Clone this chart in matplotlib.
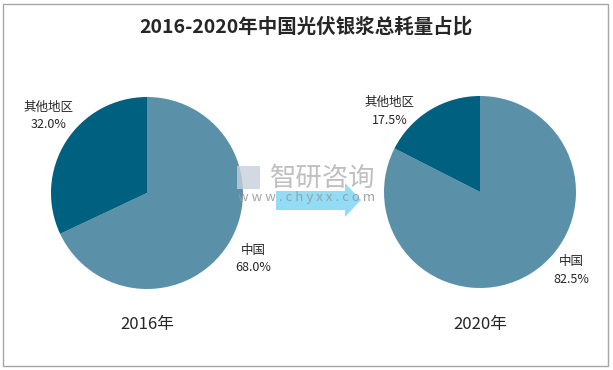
import matplotlib
matplotlib.use("Agg")
import matplotlib.pyplot as plt
from matplotlib.patches import Rectangle, Polygon

plt.rcParams['font.family'] = ['Noto Sans CJK SC', 'DejaVu Sans']

# ---------------------------------------------------------------------
# Données
# ---------------------------------------------------------------------
regions = ["中国", "其他地区"]
share_2016 = [68.0, 32.0]
share_2020 = [82.5, 17.5]
years = ["2016年", "2020年"]

COLORS = ["#5B91A8", "#006080"]
W, H = 613, 370


def px_axes(fig, cx, cy, r):
    """Axes carré centré sur (cx, cy) en pixels (origine en haut à gauche)."""
    return fig.add_axes([(cx - r) / W, (H - cy - r) / H, 2 * r / W, 2 * r / H])


fig = plt.figure(figsize=(W / 100, H / 100), dpi=100)

# cadre gris
fig.patches.append(Rectangle((3 / W, 4 / H), 605 / W, 362 / H,
                             transform=fig.transFigure, fill=False,
                             edgecolor="#A6A6A6", linewidth=1))

fig.text(306 / W, 1 - 27 / H, "2016-2020年中国光伏银浆总耗量占比",
         ha="center", va="center", fontsize=14, fontweight="bold",
         color="#262626")

pies = [
    (147, 193, share_2016, years[0], [(1.11, -0.69), (-1.03, 0.80)]),
    (480, 192, share_2020, years[1], [(0.95, -0.82), (-0.94, 0.84)]),
]

for cx, cy, vals, year, label_pos in pies:
    ax = px_axes(fig, cx, cy, 96)
    ax.pie(vals, colors=COLORS, startangle=90, counterclock=False,
           wedgeprops=dict(linewidth=0))
    ax.set_xlim(-1, 1)
    ax.set_ylim(-1, 1)
    ax.set_aspect("equal")
    for name, v, (lx, ly) in zip(regions, vals, label_pos):
        ax.text(lx, ly, f"{name}\n{v:.1f}%", ha="center", va="center",
                fontsize=9, color="#262626", linespacing=1.45, clip_on=False)
    fig.text(cx / W, 1 - 324 / H, year, ha="center", va="center",
             fontsize=12, color="#262626")

# filigrane
arrow = [(276, 191), (345, 191), (345, 183), (361, 200), (345, 217),
         (345, 210), (276, 210)]
fig.patches.append(Polygon([(x / W, 1 - y / H) for x, y in arrow],
                           closed=True, transform=fig.transFigure,
                           facecolor="#7FD6F5", edgecolor="none", alpha=0.85))
fig.text(323 / W, 1 - 178 / H, "智研咨询", ha="center", va="center",
         fontsize=19, color="#B8B8B8", alpha=0.9)
fig.text(307 / W, 1 - 198 / H, "w w w . c h y x x . c o m", ha="center",
         va="center", fontsize=9.5, color="#9A9A9A", alpha=0.9)
fig.patches.append(Rectangle((237 / W, 1 - 189 / H), 23 / W, 23 / H,
                             transform=fig.transFigure, facecolor="#C8D0DC",
                             edgecolor="none", alpha=0.8))

fig.savefig("out.png", dpi=100)
